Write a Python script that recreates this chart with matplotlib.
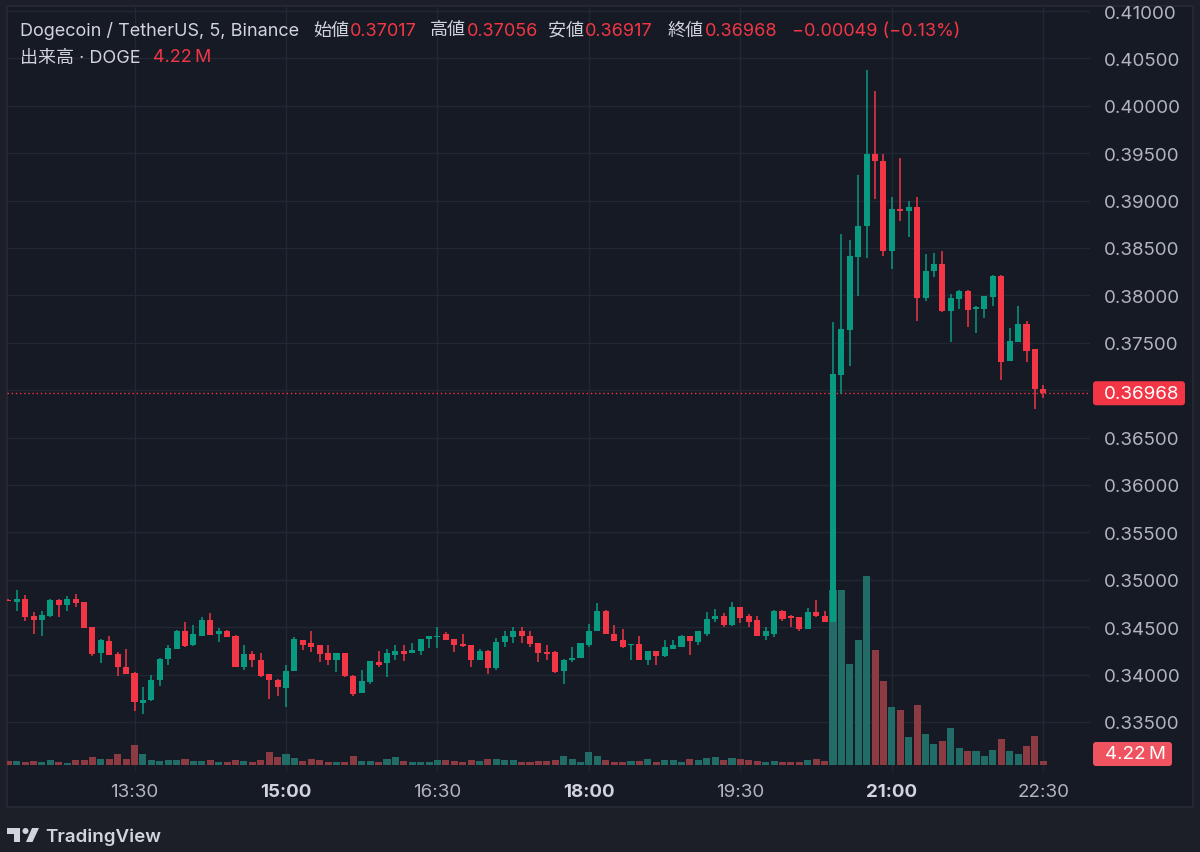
import matplotlib
matplotlib.use("Agg")
import matplotlib.pyplot as plt
import matplotlib.transforms as mtransforms
from matplotlib.lines import Line2D
from matplotlib.patches import Rectangle, FancyBboxPatch, Circle, Polygon

W, H = 1200, 853

# 5-minute candles, first one at 12:15
start_time = "12:15"
interval_min = 5

opens = [
    0.34792, 0.34765, 0.34800, 0.34617, 0.34571, 0.34617, 0.34782, 0.34736, 0.34800, 0.34765,
    0.34501, 0.34227, 0.34353, 0.34219, 0.34079, 0.34016, 0.33699, 0.33727, 0.33938, 0.34167,
    0.34272, 0.34465, 0.34307, 0.34412, 0.34571, 0.34430, 0.34455, 0.34412, 0.34079, 0.34219,
    0.34156, 0.34008, 0.33938, 0.33861, 0.34037, 0.34367, 0.34335, 0.34307, 0.34227, 0.34156,
    0.34227, 0.33990, 0.33805, 0.33921, 0.34138, 0.34121, 0.34212, 0.34244, 0.34227, 0.34254,
    0.34378, 0.34395, 0.34423, 0.34378, 0.34325, 0.34307, 0.34156, 0.34254, 0.34072, 0.34343,
    0.34395, 0.34465, 0.34412, 0.34332, 0.34237, 0.34237, 0.34037, 0.34149, 0.34177, 0.34317,
    0.34459, 0.34676, 0.34430, 0.34360, 0.34307, 0.34325, 0.34159, 0.34244, 0.34191, 0.34272,
    0.34296, 0.34406, 0.34343, 0.34430, 0.34589, 0.34613, 0.34518, 0.34712, 0.34613, 0.34571,
    0.34406, 0.34430, 0.34676, 0.34613, 0.34607, 0.34483, 0.34659, 0.34623, 0.34560, 0.37160,
    0.37638, 0.38402, 0.38735, 0.39492, 0.39421, 0.38472, 0.38912, 0.38887, 0.38936, 0.37969,
    0.38261, 0.38331, 0.37832, 0.37962, 0.38050, 0.37857, 0.37857, 0.37980, 0.38208, 0.37311,
    0.37512, 0.37698, 0.37435, 0.37017,
]
highs = [
    0.34795, 0.34895, 0.34842, 0.34659, 0.34666, 0.34800, 0.34800, 0.34824, 0.34852, 0.34770,
    0.34507, 0.34378, 0.34402, 0.34237, 0.34272, 0.34026, 0.33874, 0.34001, 0.34170, 0.34307,
    0.34468, 0.34554, 0.34518, 0.34607, 0.34649, 0.34490, 0.34470, 0.34415, 0.34314, 0.34254,
    0.34227, 0.34010, 0.33956, 0.34096, 0.34395, 0.34370, 0.34465, 0.34310, 0.34307, 0.34230,
    0.34230, 0.33993, 0.34051, 0.34145, 0.34254, 0.34272, 0.34307, 0.34314, 0.34332, 0.34380,
    0.34405, 0.34501, 0.34448, 0.34380, 0.34430, 0.34310, 0.34272, 0.34257, 0.34385, 0.34465,
    0.34507, 0.34507, 0.34465, 0.34335, 0.34314, 0.34254, 0.34160, 0.34290, 0.34338, 0.34536,
    0.34754, 0.34680, 0.34528, 0.34483, 0.34328, 0.34412, 0.34247, 0.34247, 0.34367, 0.34367,
    0.34415, 0.34409, 0.34458, 0.34659, 0.34694, 0.34649, 0.34765, 0.34715, 0.34641, 0.34613,
    0.34507, 0.34680, 0.34680, 0.34631, 0.34610, 0.34701, 0.34789, 0.34666, 0.37716, 0.38648,
    0.38584, 0.39270, 0.40378, 0.40153, 0.39492, 0.39041, 0.39450, 0.38999, 0.39041, 0.38437,
    0.38447, 0.38472, 0.38015, 0.38053, 0.38053, 0.37891, 0.37994, 0.38211, 0.38211, 0.37653,
    0.37885, 0.37733, 0.37438, 0.37056,
]
lows = [
    0.34772, 0.34676, 0.34564, 0.34430, 0.34412, 0.34607, 0.34607, 0.34676, 0.34712, 0.34490,
    0.34191, 0.34124, 0.34210, 0.33980, 0.34005, 0.33621, 0.33586, 0.33725, 0.33885, 0.34096,
    0.34270, 0.34290, 0.34305, 0.34410, 0.34418, 0.34343, 0.34393, 0.34077, 0.34051, 0.34079,
    0.33978, 0.33745, 0.33769, 0.33657, 0.34035, 0.34262, 0.34237, 0.34132, 0.34096, 0.34026,
    0.33978, 0.33779, 0.33803, 0.33903, 0.34085, 0.33974, 0.34156, 0.34142, 0.34225, 0.34212,
    0.34283, 0.34283, 0.34365, 0.34237, 0.34290, 0.34079, 0.34149, 0.34008, 0.34051, 0.34296,
    0.34332, 0.34332, 0.34296, 0.34132, 0.34156, 0.34016, 0.33903, 0.34132, 0.34175, 0.34296,
    0.34457, 0.34428, 0.34350, 0.34279, 0.34149, 0.34157, 0.34096, 0.34106, 0.34185, 0.34270,
    0.34293, 0.34212, 0.34317, 0.34412, 0.34554, 0.34501, 0.34515, 0.34543, 0.34501, 0.34404,
    0.34360, 0.34400, 0.34564, 0.34501, 0.34465, 0.34480, 0.34607, 0.34556, 0.34550, 0.36960,
    0.37258, 0.37991, 0.38391, 0.39017, 0.38413, 0.38279, 0.38782, 0.38613, 0.37733, 0.37944,
    0.38191, 0.37830, 0.37505, 0.37857, 0.37663, 0.37603, 0.37758, 0.37891, 0.37111, 0.37308,
    0.37510, 0.37294, 0.36802, 0.36917,
]
closes = [
    0.34775, 0.34800, 0.34607, 0.34571, 0.34631, 0.34782, 0.34736, 0.34800, 0.34754, 0.34494,
    0.34219, 0.34360, 0.34212, 0.34079, 0.34008, 0.33710, 0.33734, 0.33938, 0.34167, 0.34283,
    0.34465, 0.34301, 0.34423, 0.34571, 0.34420, 0.34455, 0.34395, 0.34079, 0.34219, 0.34149,
    0.33980, 0.33938, 0.33868, 0.34042, 0.34378, 0.34317, 0.34296, 0.34219, 0.34156, 0.34227,
    0.33980, 0.33797, 0.33931, 0.34142, 0.34106, 0.34227, 0.34244, 0.34219, 0.34262, 0.34378,
    0.34402, 0.34412, 0.34367, 0.34307, 0.34301, 0.34156, 0.34254, 0.34072, 0.34349, 0.34402,
    0.34465, 0.34402, 0.34325, 0.34227, 0.34219, 0.34026, 0.34156, 0.34177, 0.34335, 0.34465,
    0.34676, 0.34430, 0.34353, 0.34290, 0.34325, 0.34159, 0.34244, 0.34191, 0.34290, 0.34307,
    0.34412, 0.34353, 0.34455, 0.34589, 0.34613, 0.34518, 0.34718, 0.34599, 0.34560, 0.34406,
    0.34455, 0.34676, 0.34589, 0.34599, 0.34483, 0.34659, 0.34623, 0.34560, 0.37171, 0.37646,
    0.38413, 0.38735, 0.39492, 0.39421, 0.38472, 0.38912, 0.38887, 0.38936, 0.37969, 0.38261,
    0.38328, 0.37832, 0.37969, 0.38050, 0.37849, 0.37874, 0.37991, 0.38208, 0.37301, 0.37522,
    0.37698, 0.37417, 0.37017, 0.36968,
]
# volume in millions of DOGE
volumes = [
    4.2, 4.6, 3.4, 4.6, 3.8, 5.7, 3.8, 2.6, 5.7, 5.7,
    9.1, 6.5, 6.5, 12.9, 6.5, 22.8, 12.9, 5.4, 4.6, 5.7,
    5.7, 7.2, 4.6, 4.6, 5.7, 3.8, 3.8, 5.7, 4.6, 3.8,
    5.7, 15.2, 9.1, 12.2, 7.6, 4.6, 6.5, 5.7, 3.8, 3.8,
    3.8, 10.3, 4.6, 4.6, 3.8, 6.5, 9.1, 4.6, 3.8, 3.1,
    3.1, 5.4, 5.7, 4.6, 3.8, 5.4, 4.2, 7.2, 7.2, 5.7,
    5.4, 3.1, 3.8, 4.9, 4.6, 6.0, 10.3, 6.5, 3.8, 15.2,
    10.3, 5.7, 3.8, 3.1, 4.6, 4.6, 7.2, 3.8, 5.4, 5.4,
    3.1, 7.2, 6.0, 8.3, 9.1, 5.7, 8.0, 7.2, 5.7, 4.6,
    3.8, 4.6, 3.1, 3.1, 3.4, 6.0, 7.2, 4.2, 199.5, 199.8,
    115.1, 142.5, 215.8, 131.4, 96.1, 65.8, 62.7, 31.6, 68.4, 35.3,
    23.9, 27.7, 41.8, 19.0, 15.6, 15.6, 10.6, 17.4, 29.6, 15.6,
    12.5, 21.3, 33.4, 4.22,
]

price_ticks = [0.335, 0.340, 0.345, 0.350, 0.355, 0.360, 0.365, 0.370,
               0.375, 0.380, 0.385, 0.390, 0.395, 0.400, 0.405, 0.410]
time_ticks = ["13:30", "15:00", "16:30", "18:00", "19:30", "21:00", "22:30"]
bold_ticks = ["15:00", "18:00", "21:00"]

header_pairs = [("始値", "0.37017"), ("高値", "0.37056"), ("安値", "0.36917"), ("終値", "0.36968")]
change_text = "\u22120.00049 (\u22120.13%)"
last_volume_text = "4.22\u2009M"

# colours
BG_OUT = "#1c1f28"
BG_PANE = "#161a24"
BORDER = "#272b36"
GRID = "#232733"
UP = "#089981"
DOWN = "#f23645"
UP_VOL = "#216c67"
DOWN_VOL = "#8c3b43"
TXT = "#d1d4dc"
TXT_AX = "#b2b5be"

plt.rcParams["font.family"] = ["Inter", "Noto Sans CJK JP", "DejaVu Sans"]


def to_min(s):
    h, m = s.split(":")
    return int(h) * 60 + int(m)


t0 = to_min(start_time)
times = [t0 + interval_min * i for i in range(len(opens))]

fig = plt.figure(figsize=(W / 100, H / 100), dpi=100, facecolor=BG_OUT)
fig.patches.append(Rectangle((7 / W, 1 - 808 / H), (1193 - 7) / W, (808 - 7) / H,
                             transform=fig.transFigure, fc=BG_PANE, ec=BORDER, lw=1.2, zorder=0))

left, right, top, bottom = 7, 1090, 7, 772
rect = [left / W, 1 - bottom / H, (right - left) / W, (bottom - top) / H]
ax = fig.add_axes(rect)
ax_vol = ax.twinx()
ax.set_zorder(2)
ax.patch.set_visible(False)
ax_vol.set_zorder(1)
ax_vol.patch.set_visible(False)

# px per candle 8.415, first candle centre at x=8.3
x_lo = t0 + interval_min * (left - 8.3) / 8.415
x_hi = t0 + interval_min * (right - 8.3) / 8.415
ax.set_xlim(x_lo, x_hi)
# price scale: 9480 px per unit, 0.41 at y=12
ax.set_ylim(0.41 - (bottom - 12) / 9480, 0.41 + (12 - top) / 9480)
# volume scale: 1.14 M per px, baseline at y=766
ax_vol.set_ylim(-(bottom - 766) * 1.14, (766 - top) * 1.14)

# grid, drawn in the lower axes so it stays behind the volume bars
hline_tr = mtransforms.blended_transform_factory(ax_vol.transAxes, ax.transData)
for p in price_ticks:
    ax_vol.add_line(Line2D([0, 1], [p, p], transform=hline_tr, color=GRID, lw=1, zorder=0))
for t in time_ticks:
    ax_vol.axvline(to_min(t), color=GRID, lw=1, zorder=0)

# volume
vol_colors = [UP_VOL if c >= o else DOWN_VOL for o, c in zip(opens, closes)]
ax_vol.bar(times, volumes, width=interval_min * 0.84, color=vol_colors, linewidth=0, zorder=2)

# candles
colors = [UP if c >= o else DOWN for o, c in zip(opens, closes)]
ax.vlines(times, lows, highs, colors=colors, lw=1.1, zorder=3)
bottoms = [min(o, c) for o, c in zip(opens, closes)]
heights = [max(abs(c - o), 0.00008) for o, c in zip(opens, closes)]
ax.bar(times, heights, bottom=bottoms, width=interval_min * 0.72, color=colors,
       linewidth=0, zorder=4)

# last price line
last = closes[-1]
ax.axhline(last, color=DOWN, lw=1, linestyle=(0, (1, 2)), zorder=2)

for a in (ax, ax_vol):
    for s in a.spines.values():
        s.set_visible(False)
ax_vol.set_yticks([])
ax_vol.tick_params(axis="x", length=0)

ax.yaxis.tick_right()
ax.set_yticks(price_ticks)
ax.set_yticklabels([f"{p:.5f}" for p in price_ticks])
ax.tick_params(axis="y", length=0, pad=10, labelsize=13.5, labelcolor=TXT_AX)
ax.set_xticks([to_min(t) for t in time_ticks])
ax.set_xticklabels(time_ticks)
ax.tick_params(axis="x", length=0, pad=9, labelsize=13.5, labelcolor=TXT_AX)
for lbl in ax.get_xticklabels():
    if lbl.get_text() in bold_ticks:
        lbl.set_fontweight("bold")
        lbl.set_color(TXT)

# price / volume labels on the scale
fig.canvas.draw()
y_last = ax.transData.transform((0, last))[1]
fig.patches.append(FancyBboxPatch((1093, y_last - 12), 92, 24,
                                  boxstyle="round,pad=0,rounding_size=3",
                                  fc=DOWN, ec="none", transform=None, zorder=5))
fig.text(1104 / W, y_last / H, f"{last:.5f}", color="white", fontsize=13.5,
         ha="left", va="center", zorder=6)
y_vol = ax_vol.transData.transform((0, volumes[-1]))[1]
y_vol = max(y_vol, (H - bottom) + 17)
fig.patches.append(FancyBboxPatch((1093, y_vol - 12), 79, 24,
                                  boxstyle="round,pad=0,rounding_size=3",
                                  fc="#f05360", ec="none", transform=None, zorder=5))
fig.text(1105 / W, y_vol / H, last_volume_text, color="white", fontsize=13.5,
         ha="left", va="center", zorder=6)

# header legend
hs = 13
hy = 1 - 31 / H
fig.text(20 / W, hy, "Dogecoin / TetherUS, 5, Binance", color=TXT, fontsize=hs, va="center")
label_x = [313, 430, 548, 668]
for (lab, val), x in zip(header_pairs, label_x):
    fig.text(x / W, hy, lab, color=TXT, fontsize=hs, va="center")
    fig.text((x + 37) / W, hy, val, color=DOWN, fontsize=hs, va="center")
fig.text(792 / W, hy, change_text, color=DOWN, fontsize=hs, va="center")
hy2 = 1 - 58 / H
fig.text(20 / W, hy2, "出来高 · DOGE", color=TXT, fontsize=hs, va="center")
fig.text(153 / W, hy2, last_volume_text, color=DOWN, fontsize=hs, va="center")

# TradingView logo
lax = fig.add_axes([7 / W, 1 - 846 / H, 32 / W, 20 / H])
lax.set_xlim(0, 32)
lax.set_ylim(0, 20)
lax.axis("off")
lax.add_patch(Rectangle((0, 11), 13, 6, fc=TXT, ec="none"))
lax.add_patch(Rectangle((7, 3), 6, 14, fc=TXT, ec="none"))
lax.add_patch(Circle((18.5, 14), 3, fc=TXT, ec="none"))
lax.add_patch(Polygon([(19, 3), (25.5, 3), (32, 17), (25, 17)], closed=True, fc=TXT, ec="none"))
fig.text(45 / W, 1 - 837 / H, "TradingView", color=TXT, fontsize=13.5, fontweight="semibold", va="center")

fig.savefig("out.png", dpi=100, facecolor=BG_OUT)
